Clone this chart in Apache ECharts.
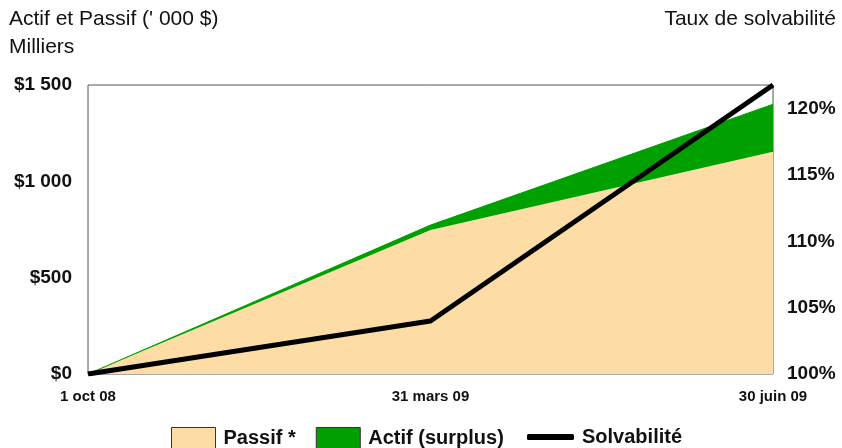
<!DOCTYPE html>
<html>
<head>
<meta charset="utf-8">
<script src="https://cdn.jsdelivr.net/npm/echarts@6/dist/echarts.min.js"></script>
<style>
html, body { margin: 0; padding: 0; background: #fff; }
#app { width: 842px; height: 448px; }
</style>
</head>
<body>
<div id="app"></div>
<script>
// dates du rapport
const dates = ['1 oct 08', '31 mars 09', '30 juin 09'];
// passif en milliers de $
const passif = [0, 747, 1154];
// surplus d'actif (actif - passif)
const surplus = [0, 26, 246];
// taux de solvabilité en %
const solvabilite = [100, 104.0, 121.8];

const font = 'Arial, "Liberation Sans", sans-serif';

let chart = echarts.init(document.getElementById('app'));

function dollars(v) {
	// espace comme séparateur de milliers
	return '$' + String(v).replace(/\B(?=(\d{3})+(?!\d))/g, ' ');
}

let titleStyle = { fontSize: 21, fontWeight: 'normal', color: '#111', fontFamily: font };
let legendText = { fontSize: 20, fontWeight: 'bold', color: '#111', fontFamily: font, padding: [0, 0, 0, 3] };

let option = {
	backgroundColor: '#fff',
	animation: false,
	textStyle: { fontFamily: font },
	title: [{
		text: "Actif et Passif (' 000 $)",
		left: 9, top: 9, padding: 0,
		textStyle: titleStyle
	}, {
		text: 'Milliers',
		left: 9, top: 37, padding: 0,
		textStyle: titleStyle
	}, {
		text: 'Taux de solvabilité',
		right: 6, top: 9, padding: 0,
		textStyle: titleStyle
	}],
	legend: [{
		data: ['Passif *', 'Actif (surplus)'],
		left: 171, top: 427, padding: 0,
		icon: 'rect',
		itemWidth: 44, itemHeight: 21,
		itemGap: 20,
		itemStyle: { borderColor: '#333', borderWidth: 1 },
		textStyle: legendText
	}, {
		data: ['Solvabilité'],
		left: 527, top: 427, padding: 0,
		icon: 'roundRect',
		itemWidth: 47, itemHeight: 6,
		textStyle: legendText
	}],
	grid: {
		left: 88, right: 69, top: 85, bottom: 74,
		show: true,
		borderColor: '#555',
		borderWidth: 1,
		backgroundColor: 'transparent'
	},
	xAxis: {
		type: 'category',
		data: dates,
		boundaryGap: false,
		axisLine: { show: false },
		axisTick: { show: false },
		axisLabel: { fontSize: 15, fontWeight: 'bold', color: '#111', margin: 15, fontFamily: font }
	},
	yAxis: [{
		type: 'value',
		min: 0, max: 1500, interval: 500,
		axisLine: { show: false },
		axisTick: { show: false },
		splitLine: { show: false },
		axisLabel: {
			fontSize: 19, fontWeight: 'bold', color: '#111', margin: 16, fontFamily: font,
			formatter: dollars
		}
	}, {
		type: 'value',
		min: 100, max: 121.8, interval: 5,
		axisLine: { show: false },
		axisTick: { show: false },
		splitLine: { show: false },
		axisLabel: {
			fontSize: 19, fontWeight: 'bold', color: '#111', margin: 14, fontFamily: font,
			showMaxLabel: false,
			formatter: function (v) { return v % 5 === 0 ? v + '%' : ''; }
		}
	}],
	series: [{
		name: 'Passif *',
		type: 'line',
		stack: 'actif',
		data: passif,
		showSymbol: false,
		color: '#FDDCA6',
		lineStyle: { width: 0 },
		areaStyle: { color: '#FDDCA6', opacity: 1 },
		z: 1
	}, {
		name: 'Actif (surplus)',
		type: 'line',
		stack: 'actif',
		data: surplus,
		showSymbol: false,
		color: '#00A000',
		lineStyle: { width: 1, color: '#00A000' },
		areaStyle: { color: '#00A000', opacity: 1 },
		z: 2
	}, {
		name: 'Solvabilité',
		type: 'line',
		yAxisIndex: 1,
		data: solvabilite,
		showSymbol: false,
		color: '#000',
		lineStyle: { width: 5, color: '#000' },
		z: 3
	}]
};

chart.setOption(option);
</script>
</body>
</html>
